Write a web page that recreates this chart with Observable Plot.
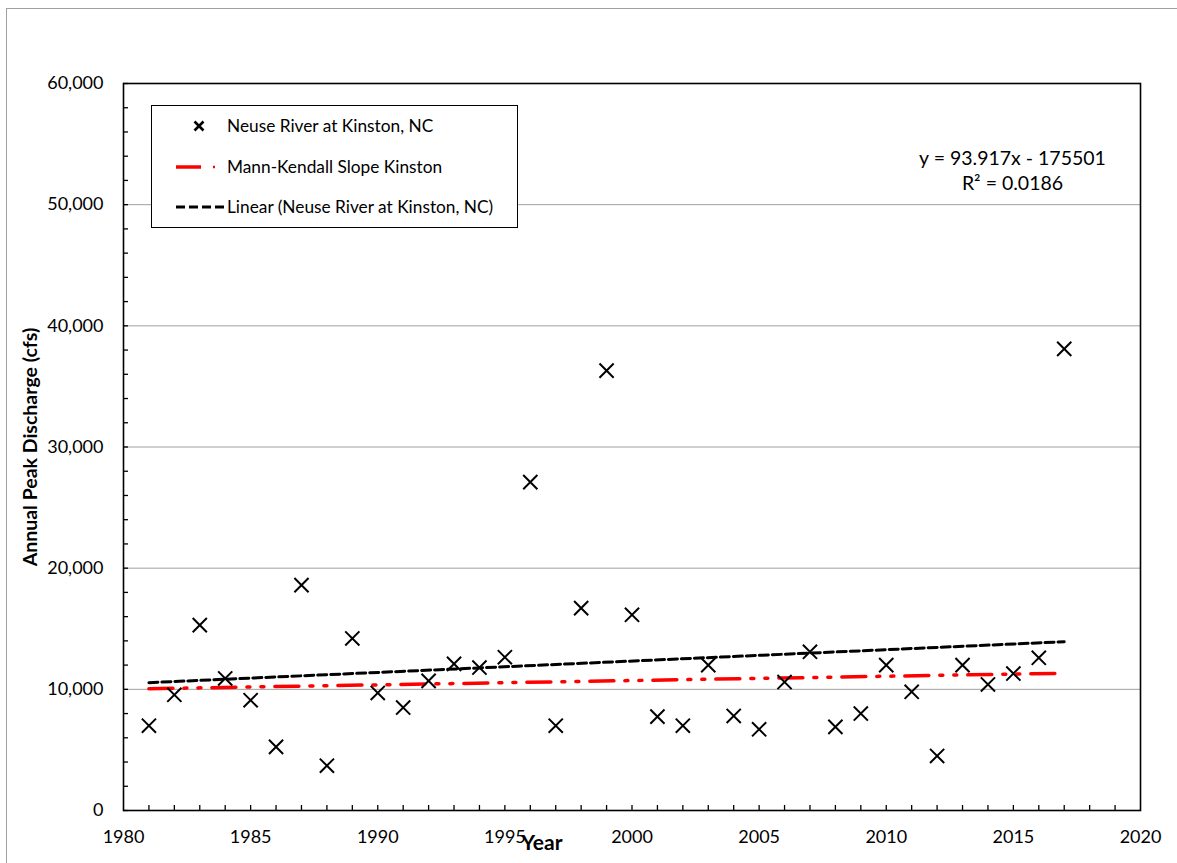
<!DOCTYPE html>
<html>
<head>
<meta charset="utf-8">
<script src="https://cdn.jsdelivr.net/npm/d3@7"></script>
<script src="https://cdn.jsdelivr.net/npm/@observablehq/plot@0.6"></script>
<style>
  html, body { margin: 0; padding: 0; background: white; }
  #wrap { position: relative; width: 1177px; height: 863px; overflow: hidden; font-family: Lato, "Open Sans", sans-serif; }
  #outer { position: absolute; left: 6px; top: 8px; width: 1300px; height: 1000px; border-left: 1.5px solid #a0a0a0; border-top: 1.5px solid #a0a0a0; pointer-events: none; }
  #legend { position: absolute; left: 151px; top: 105px; width: 365px; height: 121px; border: 1px solid #000; background: white; }
  #legend .row { position: absolute; left: 0; height: 24px; width: 365px; }
  #legend .row svg { position: absolute; left: 0; top: 0; }
  #legend .row span { position: absolute; left: 75px; top: 50%; transform: translateY(-52%); font-size: 17.3px; color: #000; white-space: nowrap; }
</style>
</head>
<body>
<div id="wrap">
  <div id="chart"></div>
  <div id="outer"></div>
  <div id="legend"></div>
</div>
<script>
// ---- data ----
const years = [1981,1982,1983,1984,1985,1986,1987,1988,1989,1990,1991,1992,1993,1994,1995,1996,1997,1998,1999,2000,2001,2002,2003,2004,2005,2006,2007,2008,2009,2010,2011,2012,2013,2014,2015,2016,2017];
const peaks = [7000,9550,15300,10900,9100,5250,18600,3700,14200,9700,8500,10700,12100,11800,12650,27100,7000,16700,36300,16150,7750,7000,12000,7800,6700,10600,13100,6900,8000,12000,9800,4500,12000,10400,11300,12600,38100];
const trendYears = [1981, 2017];
const linearTrend = [10550, 13930];
const mannKendall = [10050, 11330];
const xMajorTicks = [1980,1985,1990,1995,2000,2005,2010,2015,2020];
const xMinorTicks = d3.range(1981, 2020);
const yMajorTicks = [0,10000,20000,30000,40000,50000,60000];
const yMinorTicks = d3.range(0, 60001, 2000);
const seriesNames = ["Neuse River at Kinston, NC", "Mann-Kendall Slope Kinston", "Linear (Neuse River at Kinston, NC)"];
const equationLines = ["y = 93.917x - 175501", "R\u00b2 = 0.0186"];
const yTitle = "Annual Peak Discharge (cfs)";
const xTitle = "Year";

const points = years.map((y, i) => ({year: y, peak: peaks[i]}));
const linTable = trendYears.map((y, i) => ({year: y, v: linearTrend[i]}));
const mkTable = trendYears.map((y, i) => ({year: y, v: mannKendall[i]}));

const font = "Lato, 'Open Sans', sans-serif";

const chart = Plot.plot({
  width: 1177,
  height: 863,
  marginLeft: 123,
  marginTop: 83,
  marginRight: 37,
  marginBottom: 53,
  style: { fontFamily: font, fontSize: "18px", color: "#000", background: "transparent" },
  x: { domain: [1980, 2020], label: null },
  y: { domain: [0, 60000], label: null },
  marks: [
    Plot.gridY(yMajorTicks, { stroke: "#a0a0a0", strokeOpacity: 1, strokeWidth: 1 }),
    Plot.axisY(yMinorTicks, { tickSize: 5, dx: 5, tickFormat: () => "", label: null, stroke: "#000", strokeWidth: 1.3 }),
    Plot.axisY(yMajorTicks, { tickSize: 0, tickPadding: 20, tickFormat: d3.format(","), label: null, fontSize: 18 }),
    Plot.axisX(xMinorTicks, { tickSize: 5, dy: -5, tickFormat: () => "", label: null, stroke: "#000", strokeWidth: 1.3 }),
    Plot.axisX(xMajorTicks, { tickSize: 0, tickPadding: 20, tickFormat: d => String(d), label: null, fontSize: 18 }),
    Plot.line(mkTable, { x: "year", y: "v", stroke: "#ff0000", strokeWidth: 3.5, strokeDasharray: "24,11,3,11,3,11" }),
    Plot.line(linTable, { x: "year", y: "v", stroke: "#000", strokeWidth: 3, strokeDasharray: "9,4" }),
    Plot.dot(points, { x: "year", y: "peak", symbol: "times", r: 6.5, stroke: "#000", strokeWidth: 2, fill: "none" }),
    Plot.frame({ stroke: "#000", strokeWidth: 1.6 }),
    Plot.text([equationLines.join("\n")], { frameAnchor: "top-right", textAnchor: "middle", lineAnchor: "middle", lineHeight: 1.3, dx: -128, dy: 86, fontSize: 19.5, fill: "#000" }),
    Plot.text([yTitle], { frameAnchor: "left", rotate: -90, textAnchor: "middle", lineAnchor: "middle", dx: -93, fontSize: 19.5, fontWeight: "bold", fill: "#000" }),
    Plot.text([xTitle], { frameAnchor: "bottom", textAnchor: "middle", lineAnchor: "middle", dx: -90, dy: 33, fontSize: 21, fontWeight: "bold", fill: "#000" })
  ]
});
document.getElementById("chart").appendChild(chart);

// ---- legend ----
const legend = d3.select("#legend");
const rowCenters = [20, 61, 101];
seriesNames.forEach((name, i) => {
  const row = legend.append("div").attr("class", "row").style("top", (rowCenters[i] - 12) + "px");
  const svg = row.append("svg").attr("width", 74).attr("height", 24);
  if (i === 0) {
    svg.append("path").attr("d", "M42.5,7.5L51.5,16.5M51.5,7.5L42.5,16.5").attr("stroke", "#000").attr("stroke-width", 2.6).attr("fill", "none");
  } else if (i === 1) {
    svg.append("line").attr("x1", 24).attr("x2", 49).attr("y1", 12).attr("y2", 12).attr("stroke", "#ff0000").attr("stroke-width", 3.5);
    svg.append("line").attr("x1", 61).attr("x2", 63).attr("y1", 12).attr("y2", 12).attr("stroke", "#ff0000").attr("stroke-width", 2.5);
  } else {
    svg.append("line").attr("x1", 24).attr("x2", 74).attr("y1", 12).attr("y2", 12).attr("stroke", "#000").attr("stroke-width", 3).attr("stroke-dasharray", "9,4");
  }
  row.append("span").text(name);
});
</script>
</body>
</html>
